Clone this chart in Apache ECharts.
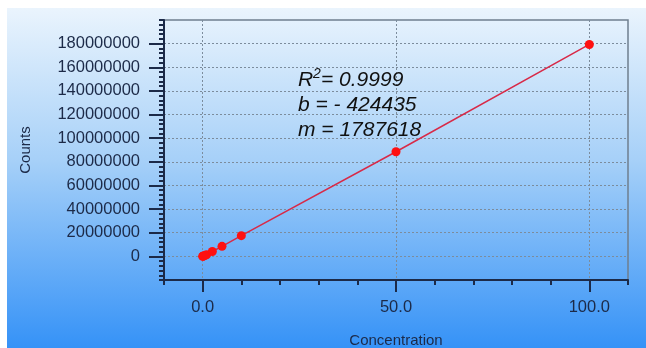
<!DOCTYPE html>
<html>
<head>
<meta charset="utf-8">
<script src="https://cdn.jsdelivr.net/npm/echarts@6/dist/echarts.min.js"></script>
<style>html,body{margin:0;padding:0;background:#fff;}#c{width:646px;height:348px;}</style>
</head>
<body>
<div id="c"></div>
<script>
// Data
var concentrations = [0, 0.1, 0.25, 0.5, 1, 2.5, 5, 10, 50, 100];
var counts = [0, 150000, 400000, 600000, 1400000, 4100000, 8500000, 17500000, 88500000, 179300000];
var xTickLabels = [0, 50, 100];
var yTickLabels = [0, 20000000, 40000000, 60000000, 80000000, 100000000, 120000000, 140000000, 160000000, 180000000];
var statR2 = '0.9999';
var statB = '- 424435';
var statM = '1787618';

var points = concentrations.map(function (c, i) { return [c, counts[i]]; });
var navy = '#1c2a48';
var font = '"Liberation Sans", Arial, sans-serif';

var chart = echarts.init(document.getElementById('c'), null, {renderer: 'canvas'});
chart.setOption({
  animation: false,
  backgroundColor: '#ffffff',
  graphic: [
    {type: 'rect', z: -10, shape: {x: 7, y: 8, width: 639, height: 340},
     style: {fill: new echarts.graphic.LinearGradient(0, 0, 0, 1, [
       {offset: 0, color: '#eaf4fd'},
       {offset: 0.45, color: '#a6d0f8'},
       {offset: 1, color: '#3592f7'}
     ])}},
    {type: 'text', x: 298, y: 80, z: 10, style: {text: 'R', font: 'italic 21px ' + font, fill: '#111', textVerticalAlign: 'middle'}},
    {type: 'text', x: 313, y: 74, z: 10, style: {text: '2', font: 'italic 14px ' + font, fill: '#111', textVerticalAlign: 'middle'}},
    {type: 'text', x: 321, y: 80, z: 10, style: {text: '= ' + statR2, font: 'italic 21px ' + font, fill: '#111', textVerticalAlign: 'middle'}},
    {type: 'text', x: 298, y: 105, z: 10, style: {text: 'b = ' + statB, font: 'italic 21px ' + font, fill: '#111', textVerticalAlign: 'middle'}},
    {type: 'text', x: 298, y: 130, z: 10, style: {text: 'm = ' + statM, font: 'italic 21px ' + font, fill: '#111', textVerticalAlign: 'middle'}}
  ],
  grid: {left: 164, top: 20, right: 18, bottom: 68, outerBoundsMode: 'none', containLabel: false,
         show: true, borderColor: '#6f7f8f', borderWidth: 1.5, backgroundColor: 'transparent'},
  xAxis: [
    {type: 'value', min: -10, max: 110, interval: 10,
     name: 'Concentration', nameLocation: 'middle', nameGap: 53,
     nameTextStyle: {color: navy, fontSize: 15, fontFamily: font},
     axisLine: {show: true, onZero: false, lineStyle: {color: navy, width: 2}},
     axisTick: {show: true, length: 12, customValues: xTickLabels, lineStyle: {color: navy, width: 2}},
     axisLabel: {show: true, margin: 19, customValues: xTickLabels, color: navy, fontSize: 16.5, fontFamily: font,
       formatter: function (v) { return v.toFixed(1); }},
     splitLine: {show: true, lineStyle: {color: '#7c8c9c', type: [2, 2], width: 1}}},
    {type: 'value', min: -10, max: 110, interval: 10, position: 'bottom',
     axisLine: {show: false, onZero: false}, axisTick: {show: true, length: 5, lineStyle: {color: navy, width: 2}},
     axisLabel: {show: false}, splitLine: {show: false}}
  ],
  yAxis: [
    {type: 'value', min: -20000000, max: 200000000, interval: 20000000,
     name: 'Counts', nameLocation: 'middle', nameGap: 131, nameRotate: 90,
     nameTextStyle: {color: navy, fontSize: 15, fontFamily: font},
     axisLine: {show: true, onZero: false, lineStyle: {color: navy, width: 2}},
     axisTick: {show: true, length: 15, customValues: yTickLabels, lineStyle: {color: navy, width: 2}},
     axisLabel: {show: true, margin: 24, customValues: yTickLabels, color: navy, fontSize: 16.5, fontFamily: font,
       formatter: function (v) { return String(v); }},
     splitLine: {show: true, lineStyle: {color: '#7c8c9c', type: [2, 2], width: 1}}},
    {type: 'value', min: -20000000, max: 200000000, interval: 4000000, position: 'left',
     axisLine: {show: false, onZero: false}, axisTick: {show: true, length: 5, lineStyle: {color: navy, width: 2}},
     axisLabel: {show: false}, splitLine: {show: false}}
  ],
  series: [{
    type: 'line', xAxisIndex: 0, yAxisIndex: 0, data: points,
    symbol: 'circle', symbolSize: 9,
    itemStyle: {color: '#ff1010'},
    lineStyle: {color: '#d82a48', width: 1.5}
  }]
});
</script>
</body>
</html>
